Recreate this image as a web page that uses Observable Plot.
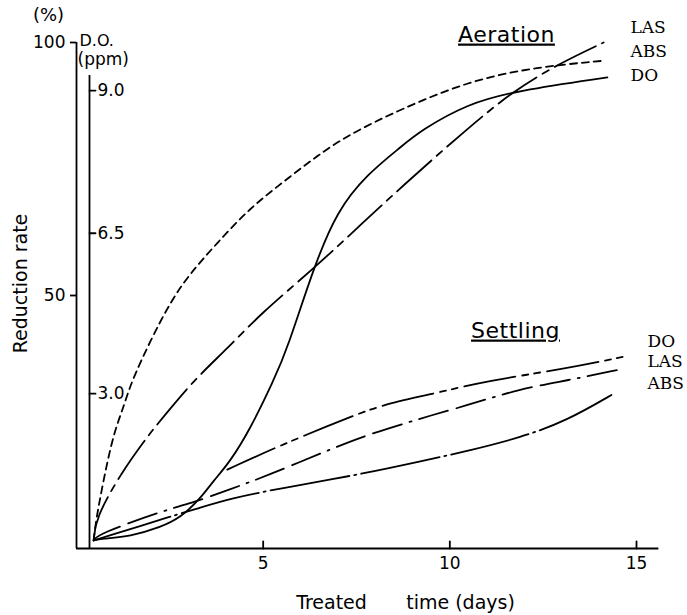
<!DOCTYPE html>
<html>
<head>
<meta charset="utf-8">
<script src="https://cdn.jsdelivr.net/npm/d3@7"></script>
<script src="https://cdn.jsdelivr.net/npm/@observablehq/plot@0.6"></script>
<style>
  html, body { margin: 0; padding: 0; background: #fff; }
</style>
</head>
<body>
<div id="chart"></div>
<script>
// ---- data ----
const xTicks = [5, 10, 15];
const yTicks = [50, 100];
const doTickLabels = ["3.0", "6.5", "9.0"];
const doTickPct = [30.6, 62.3, 90.5];   // where the D.O. (ppm) ticks sit on the % scale

// [day, reduction %]
const aerationLAS = [[0.46,1.6],[0.51,5.9],[1.18,14.8],[1.98,22.9],[2.25,25.3],[3.13,33.2],[4.04,39.5],[4.93,46.4],[6.35,55.3],[7.53,63.4],[8.68,71.3],[10.47,83.0],[11.71,90.5],[12.97,96.0],[14.12,100]];
const aerationABS = [[0.46,1.6],[0.52,5.5],[0.72,13.4],[0.99,22.7],[1.26,27.9],[1.45,32.6],[1.98,41.1],[2.5,48.5],[3.0,54],[3.78,60.5],[4.66,67.4],[5.55,72.5],[6.46,77.7],[7.34,82.0],[8.68,86.8],[10.47,92.3],[12.24,95.1],[14.12,96.4]];
const aerationDO  = [[0.46,1.6],[0.64,1.9],[1.45,2.4],[2.25,4.2],[2.79,6.1],[3.32,9.9],[3.67,13.4],[4.1,17.0],[4.66,23.7],[5.28,33.2],[5.65,39.5],[6.35,55.5],[6.98,66.8],[7.79,74.0],[8.68,79.3],[9.22,82.6],[10.47,87.9],[11.81,90.5],[14.22,93.1]];
const settlingDO  = [[4.04,15.6],[5.46,20.4],[7.42,26.3],[8.33,28.7],[9.94,31.2],[10.9,33.0],[13.15,35.6],[14.65,37.9]];
const settlingLAS = [[0.46,1.6],[0.6,2.9],[2.33,7.5],[3.13,9.1],[4.04,11.5],[5.12,14.4],[6.99,20.2],[7.88,22.7],[9.67,26.7],[10.29,27.9],[11.89,31.6],[13.15,33.2],[14.57,35.4]];
const settlingABS = [[0.46,1.6],[0.64,2.0],[2.6,6.5],[3.24,7.9],[4.13,9.9],[5.46,11.9],[7.5,14.5],[9.21,17.2],[10.55,19.4],[11.89,21.9],[13.15,25.3],[14.39,30.6]];

// ---- styles ----
const seriesStyles = [
  {pts: aerationLAS, dash: "46,7,7,7"},
  {pts: aerationABS, dash: "7,5"},
  {pts: aerationDO,  dash: null},
  {pts: settlingDO,  dash: "52,7,6,6,6,7"},
  {pts: settlingLAS, dash: "30,9,30,8,2,8"},
  {pts: settlingABS, dash: "80,5,2,5"}
];

const tickShape = {draw(context, l) { context.moveTo(0, 0); context.lineTo(0, -l); }};
const SANS = "DejaVu Sans";
const SERIF = "DejaVu Serif";
const SW = 1.8;

const label = (txt, opts) => Plot.text([txt], {text: d => d, fill: "black", textAnchor: "middle", lineAnchor: "middle", ...opts});

const plot = Plot.plot({
  width: 687,
  height: 615,
  marginLeft: 76,
  marginRight: 28.6,
  marginTop: 42,
  marginBottom: 67,
  x: {domain: [0, 15.6]},
  y: {domain: [0, 100]},
  style: {fontFamily: SANS, fontSize: "17px", background: "white", color: "black"},
  marks: [
    // axes lines
    Plot.ruleX([0], {strokeWidth: SW}),
    Plot.ruleY([0], {strokeWidth: SW}),
    Plot.ruleX([0], {dx: 13, insetTop: 33, strokeWidth: SW}),
    // outer % axis
    Plot.axisY(yTicks, {tickSize: 6, tickPadding: 5, label: null, strokeWidth: SW, fontSize: 17}),
    // x axis labels and inward ticks
    Plot.axisX(xTicks, {tickSize: 0, tickPadding: 8, label: null, fontSize: 17}),
    Plot.vector(xTicks, {x: d => d, y: 0, length: 7, rotate: 0, anchor: "start", shape: tickShape, strokeWidth: SW}),
    // D.O. axis ticks and labels
    Plot.vector(doTickPct, {x: 0, y: d => d, dx: 13, length: 6, rotate: 90, anchor: "start", shape: tickShape, strokeWidth: SW}),
    Plot.text(doTickPct, {x: 0, y: d => d, dx: 21, text: (d, i) => doTickLabels[i], textAnchor: "start", fontSize: 17, fill: "black"}),
    // curves
    ...seriesStyles.map(s => Plot.line(s.pts, {x: d => d[0], y: d => d[1], curve: "basis", stroke: "black", strokeWidth: SW, strokeDasharray: s.dash})),
    // axis titles
    label("(%)", {frameAnchor: "top-left", dx: -28, dy: -27, fontSize: 18}),
    label("D.O.", {frameAnchor: "top-left", dx: 3, dy: -2, textAnchor: "start", fontSize: 16}),
    label("(ppm)", {frameAnchor: "top-left", dx: 1, dy: 17, textAnchor: "start", fontSize: 17}),
    label("Reduction rate", {frameAnchor: "left", dx: -56, dy: -12, rotate: -90, fontSize: 19}),
    label("Treated", {frameAnchor: "bottom-left", dx: 255, dy: 54, fontSize: 19}),
    label("time (days)", {frameAnchor: "bottom-left", dx: 384, dy: 54, fontSize: 19, letterSpacing: 1}),
    // group titles
    label("Aeration", {frameAnchor: "top-left", dx: 430, dy: -8, fontSize: 22}),
    label("Settling", {frameAnchor: "top-left", dx: 439, dy: 288, fontSize: 22}),
    // series labels
    label("LAS", {frameAnchor: "top-left", dx: 554, dy: -15, textAnchor: "start", fontFamily: SERIF, fontSize: 17}),
    label("ABS", {frameAnchor: "top-left", dx: 554, dy: 9, textAnchor: "start", fontFamily: SERIF, fontSize: 17}),
    label("DO",  {frameAnchor: "top-left", dx: 554, dy: 33, textAnchor: "start", fontFamily: SERIF, fontSize: 17}),
    label("DO",  {frameAnchor: "top-left", dx: 571, dy: 299, textAnchor: "start", fontFamily: SERIF, fontSize: 17}),
    label("LAS", {frameAnchor: "top-left", dx: 571, dy: 319, textAnchor: "start", fontFamily: SERIF, fontSize: 17}),
    label("ABS", {frameAnchor: "top-left", dx: 571, dy: 341, textAnchor: "start", fontFamily: SERIF, fontSize: 17})
  ]
});

d3.select(plot).selectAll("text")
  .filter(function() { return this.textContent === "Aeration" || this.textContent === "Settling"; })
  .style("text-decoration", "underline")
  .style("letter-spacing", "0.5px");

document.getElementById("chart").appendChild(plot);
</script>
</body>
</html>
